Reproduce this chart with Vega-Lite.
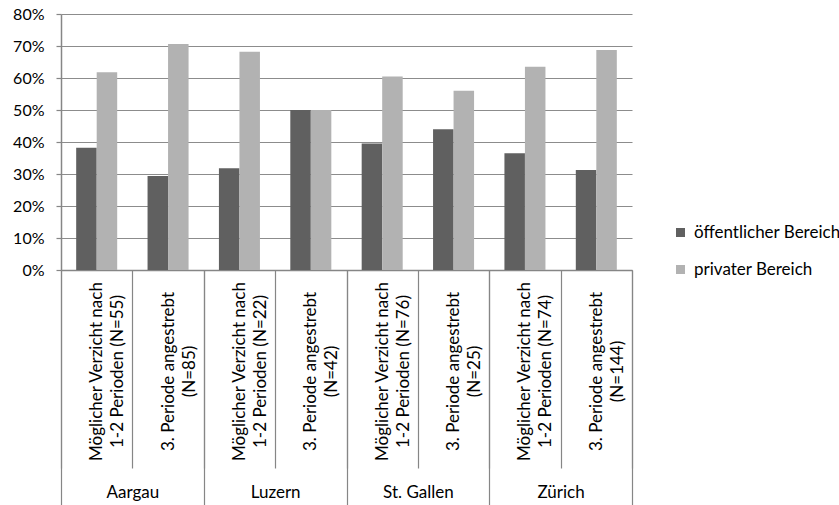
{
  "$schema": "https://vega.github.io/schema/vega-lite/v6.json",
  "width": 571,
  "height": 256,
  "padding": {"left": 12, "top": 6, "right": 0, "bottom": 0},
  "config": {
    "view": {"stroke": null},
    "font": "Lato",
    "axis": {"labelColor": "#000000", "domainColor": "#868686", "tickColor": "#868686", "gridColor": "#8c8c8c", "domainWidth": 1.5, "tickWidth": 1.2, "gridWidth": 1.2}
  },
  "layer": [
    {
      "data": {
        "values": [
          {"label": "Möglicher Verzicht nach|1-2 Perioden (N=55)", "series": "öffentlicher Bereich", "value": 0.382},
          {"label": "Möglicher Verzicht nach|1-2 Perioden (N=55)", "series": "privater Bereich", "value": 0.618},
          {"label": "3. Periode angestrebt|(N=85)", "series": "öffentlicher Bereich", "value": 0.294},
          {"label": "3. Periode angestrebt|(N=85)", "series": "privater Bereich", "value": 0.706},
          {"label": "Möglicher Verzicht nach|1-2 Perioden (N=22)", "series": "öffentlicher Bereich", "value": 0.318},
          {"label": "Möglicher Verzicht nach|1-2 Perioden (N=22)", "series": "privater Bereich", "value": 0.682},
          {"label": "3. Periode angestrebt|(N=42)", "series": "öffentlicher Bereich", "value": 0.5},
          {"label": "3. Periode angestrebt|(N=42)", "series": "privater Bereich", "value": 0.5},
          {"label": "Möglicher Verzicht nach|1-2 Perioden (N=76)", "series": "öffentlicher Bereich", "value": 0.395},
          {"label": "Möglicher Verzicht nach|1-2 Perioden (N=76)", "series": "privater Bereich", "value": 0.605},
          {"label": "3. Periode angestrebt|(N=25)", "series": "öffentlicher Bereich", "value": 0.44},
          {"label": "3. Periode angestrebt|(N=25)", "series": "privater Bereich", "value": 0.56},
          {"label": "Möglicher Verzicht nach|1-2 Perioden (N=74)", "series": "öffentlicher Bereich", "value": 0.365},
          {"label": "Möglicher Verzicht nach|1-2 Perioden (N=74)", "series": "privater Bereich", "value": 0.635},
          {"label": "3. Periode angestrebt|(N=144)", "series": "öffentlicher Bereich", "value": 0.3125},
          {"label": "3. Periode angestrebt|(N=144)", "series": "privater Bereich", "value": 0.6875}
        ]
      },
      "mark": {"type": "bar"},
      "encoding": {
        "x": {
          "field": "label", "type": "nominal", "sort": null,
          "scale": {"paddingInner": 0, "paddingOuter": 0},
          "axis": {
            "title": null, "orient": "bottom", "labelAngle": -90, "labelExpr": "split(datum.label, '|')",
            "labelAlign": "center", "labelBaseline": "middle", "tickBand": "extent", "tickSize": 198,
            "labelPadding": -97,
            "labelLineHeight": 21, "labelFontSize": 17, "labelOverlap": false, "labelLimit": 0
          }
        },
        "xOffset": {"field": "series", "type": "nominal", "sort": null, "scale": {"paddingInner": 0, "paddingOuter": 0.74}},
        "y": {
          "field": "value", "type": "quantitative",
          "scale": {"domain": [0, 0.8], "nice": false},
          "axis": {"title": null, "format": ".0%", "values": [0, 0.1, 0.2, 0.3, 0.4, 0.5, 0.6, 0.7, 0.8], "grid": true, "tickSize": 5, "labelPadding": 12, "labelFontSize": 16, "domainWidth": 1.5}
        },
        "color": {
          "field": "series", "type": "nominal", "sort": null,
          "scale": {"domain": ["öffentlicher Bereich", "privater Bereich"], "range": ["#606060", "#b2b2b2"]},
          "legend": {"title": null, "orient": "none", "legendX": 611, "legendY": 210, "symbolType": "square", "symbolSize": 81, "symbolStrokeWidth": 0, "labelFontSize": 17, "rowPadding": 19, "labelOffset": 5, "labelColor": "#000000", "labelLimit": 0}
        }
      }
    },
    {
      "data": {"values": [{"canton": "Aargau"}, {"canton": "Luzern"}, {"canton": "St. Gallen"}, {"canton": "Zürich"}]},
      "mark": {"type": "point", "opacity": 0},
      "encoding": {
        "x": {
          "field": "canton", "type": "nominal", "sort": null,
          "scale": {"padding": 0},
          "axis": {"title": null, "orient": "bottom", "labelAngle": 0, "tickBand": "extent", "tickSize": 235, "domain": false, "labelPadding": -21, "labelFontSize": 17, "labelBaseline": "top"}
        }
      }
    }
  ],
  "resolve": {"scale": {"x": "independent"}}
}
